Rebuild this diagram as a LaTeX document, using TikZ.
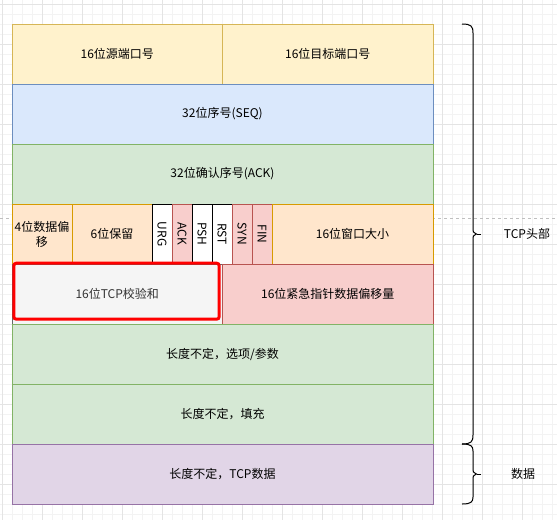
\documentclass[tikz,border=0pt]{standalone}
\usepackage{fontspec}
\setmainfont{Noto Sans CJK SC}
\usetikzlibrary{positioning}
\definecolor{ylwfill}{HTML}{FFF2CC}\definecolor{ylwline}{HTML}{D6B656}
\definecolor{blufill}{HTML}{DAE8FC}\definecolor{bluline}{HTML}{6C8EBF}
\definecolor{grnfill}{HTML}{D5E8D4}\definecolor{grnline}{HTML}{82B366}
\definecolor{orgfill}{HTML}{FFE6CC}\definecolor{orgline}{HTML}{D79B00}
\definecolor{redfill}{HTML}{F8CECC}\definecolor{redline}{HTML}{B85450}
\definecolor{gryfill}{HTML}{F5F5F5}\definecolor{gryline}{HTML}{666666}
\definecolor{grytext}{HTML}{333333}
\definecolor{purfill}{HTML}{E1D5E7}\definecolor{purline}{HTML}{9673A6}
\definecolor{gridmin}{HTML}{F3F3F3}\definecolor{gridmaj}{HTML}{E4E4E4}

\begin{document}
\begin{tikzpicture}[x=1pt,y=-1pt,font=\fontsize{12}{15}\selectfont]
  \tikzstyle{cell}=[draw,line width=1pt,inner sep=0pt,outer sep=0pt,
    minimum height=60pt,anchor=north west,align=center]
  \tikzstyle{ylw}=[draw=ylwline,fill=ylwfill]
  \tikzstyle{blu}=[draw=bluline,fill=blufill]
  \tikzstyle{grn}=[draw=grnline,fill=grnfill]
  \tikzstyle{org}=[draw=orgline,fill=orgfill]
  \tikzstyle{rd}=[draw=redline,fill=redfill]
  \tikzstyle{gry}=[draw=gryline,fill=gryfill,text=grytext]
  \tikzstyle{pur}=[draw=purline,fill=purfill]
  \tikzstyle{wht}=[draw=black,fill=white]
  \tikzstyle{hl}=[draw=red,line width=3pt,rounded corners=2.5pt]
  \tikzstyle{brc}=[draw=black,line width=1pt]
  \useasboundingbox (0,0) rectangle (557,520);

  % background grid
  \foreach \g in {0,...,55} \draw[gridmin,line width=0.8pt] (2.3+10*\g,0) -- (2.3+10*\g,520);
  \foreach \g in {0,...,51} \draw[gridmin,line width=0.8pt] (0,4+10*\g) -- (557,4+10*\g);
  \foreach \g in {0,...,13} \draw[gridmaj,line width=0.8pt] (2.3+40*\g,0) -- (2.3+40*\g,520);
  \foreach \g in {0,...,12} \draw[gridmaj,line width=0.8pt] (0,4+40*\g) -- (557,4+40*\g);
  \draw[black!25,line width=0.8pt,dash pattern=on 3pt off 3pt] (0,218) -- (557,218);

  % header rows
  \node[cell,ylw,minimum width=210.5pt] (src) at (12,24) {16位源端口号};
  \node[cell,ylw,minimum width=210.5pt] (dst) at (222.5,24) {16位目标端口号};
  \node[cell,blu,minimum width=421pt] (seq) at (12,84) {32位序号(SEQ)};
  \node[cell,grn,minimum width=421pt] (ackno) at (12,144) {32位确认序号(ACK)};
  \node[cell,org,minimum width=60pt] (off) at (12,204) {4位数据偏\\移};
  \node[cell,org,minimum width=80pt] (rsv) at (72,204) {6位保留};
  \foreach \f/\s [count=\i from 0] in {URG/wht,ACK/rd,PSH/wht,RST/wht,SYN/rd,FIN/rd}
    \node[cell,\s,rotate=-90,anchor=center,minimum width=60pt,minimum height=20pt]
      (f\f) at (162+20*\i,234) {\f};
  \node[cell,org,minimum width=161pt] (win) at (272,204) {16位窗口大小};
  \node[cell,gry,minimum width=210.5pt] (chk) at (12,264) {16位TCP校验和};
  \node[cell,rd,minimum width=210.5pt] (urp) at (222.5,264) {16位紧急指针数据偏移量};
  \node[cell,grn,minimum width=421pt] (opt) at (12,324) {长度不定，选项/参数};
  \node[cell,grn,minimum width=421pt] (pad) at (12,384) {长度不定，填充};
  \node[cell,pur,minimum width=421pt] (dat) at (12,444) {长度不定，TCP数据};

  % highlight of the checksum
  \draw[hl] (13.8,263.2) rectangle (219.2,319.2);

  % braces
  \draw[brc] (462,24) .. controls (471,24) and (473,26) .. (473,33) -- (473,228)
    .. controls (473,232) .. (476.5,234) .. controls (473,236) .. (473,240)
    -- (473,435) .. controls (473,442) and (471,444) .. (462,444);
  \draw[brc] (476.5,234) -- (481,234);
  \draw[brc] (462,444) .. controls (471,444) and (473,446) .. (473,451) -- (473,468)
    .. controls (473,472) .. (476.5,474) .. controls (473,476) .. (473,480)
    -- (473,497) .. controls (473,502) and (471,504) .. (462,504);
  \draw[brc] (476.5,474) -- (481,474);
  \node (hdr) at (527,234) {TCP头部};
  \node (datl) at (523,474) {数据};
\end{tikzpicture}
\end{document}
